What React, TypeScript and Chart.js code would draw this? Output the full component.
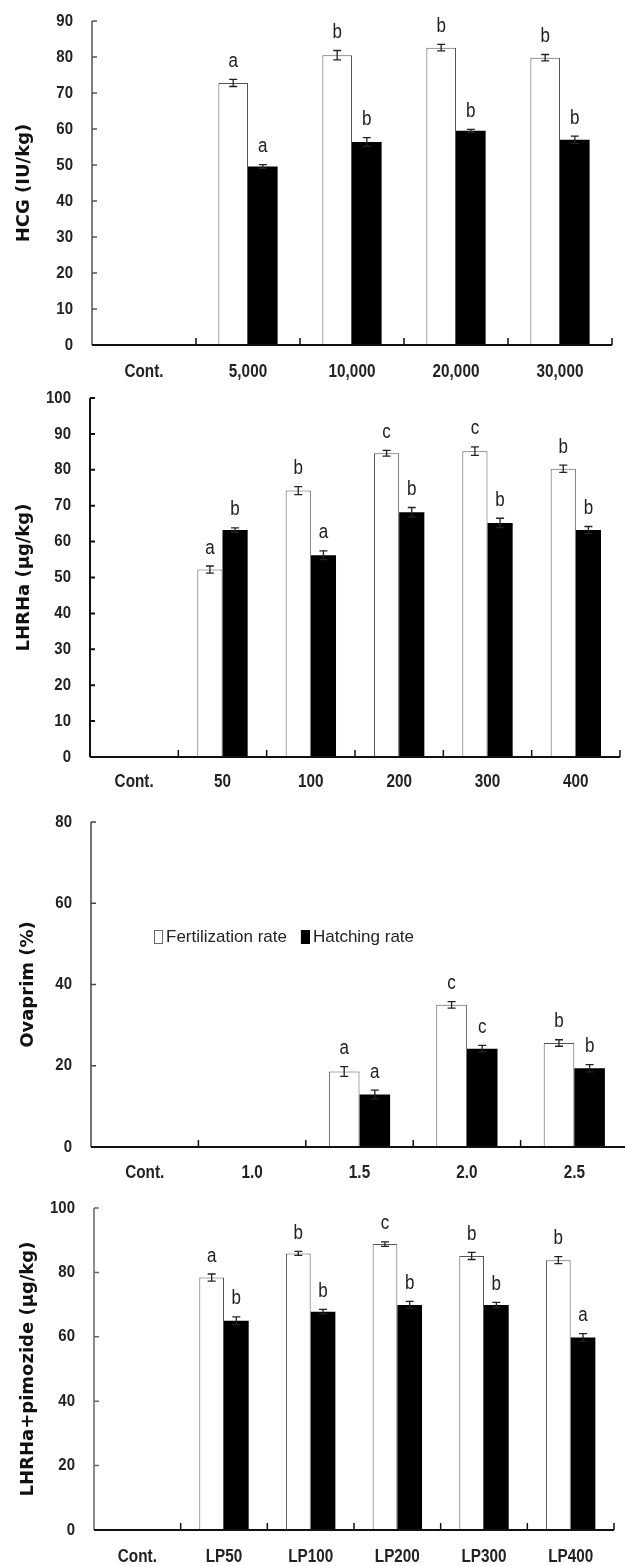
import React, { useEffect, useRef } from 'react';
import Chart from 'chart.js/auto';

// ---------- data ----------
const hcgCats = ['Cont.', '5,000', '10,000', '20,000', '30,000'];
const hcgFert = [null, 72.8, 80.5, 82.6, 79.8];
const hcgHatch = [null, 49.6, 56.4, 59.5, 57.0];
const hcgFertErr = [0, 1.0, 1.3, 0.9, 0.9];
const hcgHatchErr = [0, 0.5, 1.2, 0.4, 1.0];
const hcgFertSig = ['', 'a', 'b', 'b', 'b'];
const hcgHatchSig = ['', 'a', 'b', 'b', 'b'];

const lhCats = ['Cont.', '50', '100', '200', '300', '400'];
const lhFert = [null, 52.2, 74.2, 84.6, 85.2, 80.3];
const lhHatch = [null, 63.2, 56.2, 68.2, 65.2, 63.2];
const lhFertErr = [0, 1.0, 1.1, 0.8, 1.2, 1.0];
const lhHatchErr = [0, 0.6, 1.2, 1.3, 1.3, 1.0];
const lhFertSig = ['', 'a', 'b', 'c', 'c', 'b'];
const lhHatchSig = ['', 'b', 'a', 'b', 'b', 'b'];

const ovCats = ['Cont.', '1.0', '1.5', '2.0', '2.5'];
const ovFert = [null, null, 18.6, 35.0, 25.6];
const ovHatch = [null, null, 12.9, 24.2, 19.4];
const ovFertErr = [0, 0, 1.2, 0.8, 0.8];
const ovHatchErr = [0, 0, 1.1, 0.8, 0.9];
const ovFertSig = ['', '', 'a', 'c', 'b'];
const ovHatchSig = ['', '', 'a', 'c', 'b'];

const lpCats = ['Cont.', 'LP50', 'LP100', 'LP200', 'LP300', 'LP400'];
const lpFert = [null, 78.4, 85.9, 88.8, 85.1, 83.8];
const lpHatch = [null, 65.0, 67.8, 69.9, 69.9, 59.8];
const lpFertErr = [0, 1.1, 0.6, 0.7, 1.1, 1.1];
const lpHatchErr = [0, 1.2, 0.7, 1.1, 0.8, 1.2];
const lpFertSig = ['', 'a', 'b', 'c', 'b', 'b'];
const lpHatchSig = ['', 'b', 'b', 'b', 'b', 'a'];

const seriesNames = ['Fertilization rate', 'Hatching rate'];

// ---------- styles / layout ----------
const SANS = "'Liberation Sans', Arial, sans-serif";
const TITLE_FONT = "'DejaVu Sans', Verdana, sans-serif";

const panels = [
  { top: 0, w: 625, h: 390, padTop: 21, padRight: 13, left: 92, xH: 45, xOff: 27, max: 90, step: 10, titlePad: 14,
    title: 'HCG (IU/kg)', cats: hcgCats, fert: hcgFert, hatch: hcgHatch, errs: [hcgFertErr, hcgHatchErr], sigs: [hcgFertSig, hcgHatchSig], axisColor: '#555', axisW: 1.5 },
  { top: 390, w: 625, h: 405, padTop: 8, padRight: 5, left: 90, xH: 38, xOff: 25, max: 100, step: 10, titlePad: 14,
    title: 'LHRHa (μg/kg)', cats: lhCats, fert: lhFert, hatch: lhHatch, errs: [lhFertErr, lhHatchErr], sigs: [lhFertSig, lhHatchSig], axisColor: '#111', axisW: 2 },
  { top: 790, w: 640, h: 395, padTop: 32, padRight: 12, left: 91, xH: 38, xOff: 26, max: 80, step: 20, titlePad: 18,
    title: 'Ovaprim (%)', cats: ovCats, fert: ovFert, hatch: ovHatch, errs: [ovFertErr, ovHatchErr], sigs: [ovFertSig, ovHatchSig], axisColor: '#444', axisW: 1.5,
    legend: { x: 154, y: 147 } },
  { top: 1180, w: 625, h: 386, padTop: 28, padRight: 11, left: 94, xH: 36, xOff: 27, max: 100, step: 20, titlePad: 18,
    title: 'LHRHa+pimozide (μg/kg)', cats: lpCats, fert: lpFert, hatch: lpHatch, errs: [lpFertErr, lpHatchErr], sigs: [lpFertSig, lpHatchSig], axisColor: '#666', axisW: 1.5 },
];

function squeezedText(ctx: any, text: string, x: number, y: number, align: string, sx: number) {
  ctx.save();
  ctx.translate(x, y);
  ctx.scale(sx, 1);
  ctx.textAlign = align;
  ctx.textBaseline = 'middle';
  ctx.fillText(text, 0, 0);
  ctx.restore();
}

function extras(p: any) {
  return {
    id: 'extras',
    afterDatasetsDraw(chart: any) {
      const ctx = chart.ctx;
      const ca = chart.chartArea;
      const xs = chart.scales.x;
      const ys = chart.scales.y;
      ctx.save();
      // error bars + significance letters
      for (let di = 0; di < 2; di++) {
        const meta = chart.getDatasetMeta(di);
        const vals = chart.data.datasets[di].data;
        meta.data.forEach((el: any, i: number) => {
          const v = vals[i];
          if (v === null || v === undefined) return;
          const e = p.errs[di][i] || 0;
          const yT = ys.getPixelForValue(v + e);
          const yB = ys.getPixelForValue(v - e);
          ctx.strokeStyle = '#222';
          ctx.lineWidth = 1.3;
          ctx.beginPath();
          ctx.moveTo(el.x, yT); ctx.lineTo(el.x, yB);
          ctx.moveTo(el.x - 4, yT); ctx.lineTo(el.x + 4, yT);
          ctx.moveTo(el.x - 4, yB); ctx.lineTo(el.x + 4, yB);
          ctx.stroke();
          const s = p.sigs[di][i];
          if (s) {
            ctx.fillStyle = '#222';
            ctx.font = `20px ${SANS}`;
            squeezedText(ctx, s, el.x, yT - 18, 'center', 0.85);
          }
        });
      }
      // axes
      ctx.strokeStyle = p.axisColor;
      ctx.lineWidth = p.axisW;
      ctx.beginPath();
      ctx.moveTo(ca.left, ca.top); ctx.lineTo(ca.left, ca.bottom);
      ys.ticks.forEach((t: any) => {
        const y = ys.getPixelForValue(t.value);
        ctx.moveTo(ca.left, y); ctx.lineTo(ca.left + 5, y);
      });
      ctx.stroke();
      ctx.strokeStyle = '#111';
      ctx.lineWidth = 2;
      ctx.beginPath();
      ctx.moveTo(ca.left, ca.bottom); ctx.lineTo(ca.right, ca.bottom);
      ctx.stroke();
      ctx.lineWidth = 1.5;
      ctx.beginPath();
      const n = chart.data.labels.length;
      for (let i = 1; i <= n; i++) {
        const x = i < n ? (xs.getPixelForValue(i - 1) + xs.getPixelForValue(i)) / 2 : ca.right;
        ctx.moveTo(x, ca.bottom); ctx.lineTo(x, ca.bottom - 7);
      }
      ctx.stroke();
      // tick labels (condensed bold)
      ctx.fillStyle = '#222';
      ctx.font = `bold 18px ${SANS}`;
      chart.data.labels.forEach((lab: string, i: number) => {
        squeezedText(ctx, lab, xs.getPixelForValue(i), ca.bottom + p.xOff, 'center', 0.85);
      });
      ctx.font = `bold 17px ${SANS}`;
      ys.ticks.forEach((t: any) => {
        squeezedText(ctx, String(t.value), ca.left - 19, ys.getPixelForValue(t.value), 'right', 0.88);
      });
      // legend
      if (p.legend) {
        const lx = p.legend.x, ly = p.legend.y;
        ctx.font = `17px ${SANS}`;
        ctx.textAlign = 'left';
        ctx.textBaseline = 'middle';
        let x = lx;
        chart.data.datasets.forEach((ds: any, k: number) => {
          ctx.fillStyle = ds.backgroundColor;
          ctx.fillRect(x, ly - 7, 9, 14);
          ctx.strokeStyle = k === 0 ? '#666' : '#000';
          ctx.lineWidth = 1;
          ctx.strokeRect(x + 0.5, ly - 6.5, 8, 13);
          ctx.fillStyle = '#222';
          ctx.fillText(ds.label, x + 12, ly);
          x += 12 + ctx.measureText(ds.label).width + 14;
        });
      }
      ctx.restore();
    },
  };
}

function Panel({ p }: { p: any }) {
  const ref = useRef<HTMLCanvasElement | null>(null);
  useEffect(() => {
    const chart = new Chart(ref.current as HTMLCanvasElement, {
      type: 'bar',
      data: {
        labels: p.cats,
        datasets: [
          { label: seriesNames[0], data: p.fert, backgroundColor: '#ffffff', borderColor: '#555', borderWidth: 1 },
          { label: seriesNames[1], data: p.hatch, backgroundColor: '#000000', borderColor: '#000', borderWidth: 0 },
        ],
      },
      options: {
        responsive: false,
        animation: false,
        layout: { padding: { top: p.padTop, right: p.padRight, left: 0, bottom: 0 } },
        plugins: { legend: { display: false }, tooltip: { enabled: false } },
        datasets: { bar: { categoryPercentage: 0.57, barPercentage: 1 } },
        scales: {
          x: {
            grid: { display: false, drawTicks: false },
            border: { display: false },
            ticks: { display: false, autoSkip: false },
            afterFit: (s: any) => { s.height = p.xH; },
          },
          y: {
            min: 0, max: p.max,
            grid: { display: false, drawTicks: false },
            border: { display: false },
            ticks: { display: false, stepSize: p.step },
            title: { display: true, text: p.title, font: { family: TITLE_FONT, size: 18, weight: 'bold' }, color: '#111', padding: { top: p.titlePad, bottom: 0 } },
            afterFit: (s: any) => { s.width = p.left; },
          },
        },
      } as any,
      plugins: [extras(p)],
    });
    return () => chart.destroy();
  }, []);
  return (
    <canvas ref={ref} width={p.w} height={p.h}
      style={{ position: 'absolute', left: 0, top: p.top, width: p.w, height: p.h }} />
  );
}

export default function App() {
  return (
    <div style={{ position: 'absolute', left: 0, top: 0, width: 625, height: 1566, overflow: 'hidden', background: '#fff' }}>
      {panels.map((p, i) => <Panel key={i} p={p} />)}
    </div>
  );
}
